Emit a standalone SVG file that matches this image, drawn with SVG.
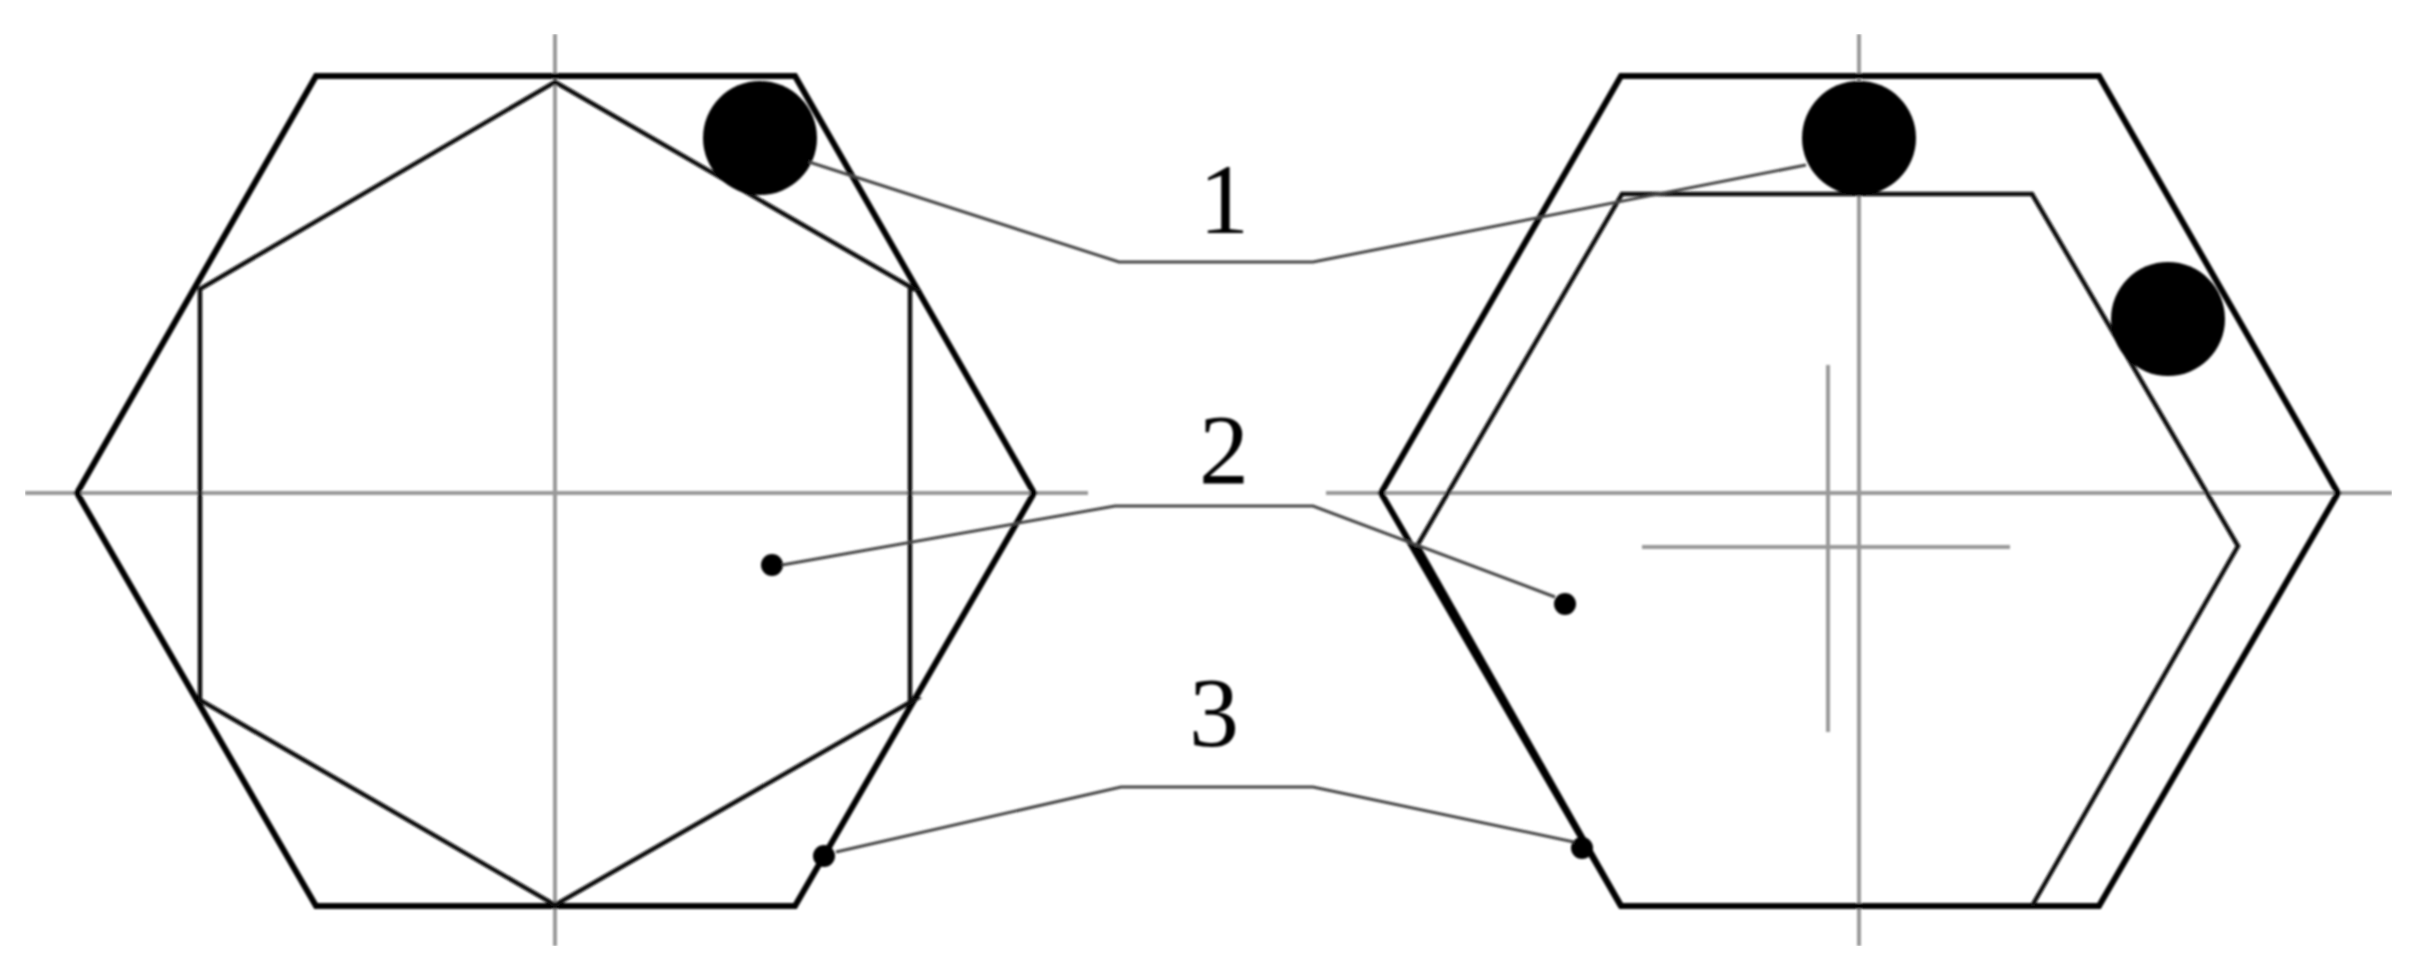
<svg xmlns="http://www.w3.org/2000/svg" width="2428" height="967" viewBox="0 0 2428 967">
<style>
.hex{fill:none;stroke:#000;stroke-width:6;stroke-linejoin:miter}
.in{fill:none;stroke:#111;stroke-width:4.5}
.axis{fill:none;stroke:#999;stroke-width:4}
.lead{fill:none;stroke:#444;stroke-width:3}
.ball{fill:#000}
text{font-family:"Liberation Serif","Times New Roman",serif;font-size:100px;fill:#000;text-anchor:middle}
</style>
<defs><filter id="soft" x="0" y="0" width="100%" height="100%"><feGaussianBlur stdDeviation="0.9"/></filter></defs>
<rect width="2428" height="967" fill="#fff"/>
<g filter="url(#soft)">
<g id="axes">
<path class="axis" d="M555 34V946M25 493H1088M1859 34V946M1326 493H2392M1828 365V732M1642 547H2010"/>
</g>
<g id="left-part">
<path class="hex" d="M316 76H795L1034 493L795 906H316L77 493Z"/>
<path class="in" d="M555 82L914 289H910V700H914L555 905L200 700V289Z"/>
<circle class="ball" cx="760" cy="138" r="57"/>
<circle class="ball" cx="772" cy="565" r="11"/>
<circle class="ball" cx="824" cy="856" r="11"/>
</g>
<g id="right-part">
<path class="hex" d="M1621 76H2099L2338 493L2099 906H1621L1381 493Z"/>
<path class="in" d="M1417 546L1622 194H2032L2238 546L2032 906"/>
<path class="hex" d="M1417 546L1621 906"/>
<circle class="ball" cx="1859" cy="138" r="57"/>
<circle class="ball" cx="2168" cy="319" r="57"/>
<circle class="ball" cx="1565" cy="604" r="11"/>
<circle class="ball" cx="1582" cy="848" r="11"/>
</g>
<g id="connectors">
<path class="lead" d="M809 162L1119 262H1313L1806 165"/>
<path class="lead" d="M782 565L1115 506H1313L1555 597"/>
<path class="lead" d="M836 852L1121 787H1313L1574 842"/>
</g>
<g id="label-1"><text x="1224" y="233">1</text></g>
<g id="label-2"><text x="1224" y="483">2</text></g>
<g id="label-3"><text x="1214" y="746">3</text></g>
</g>
</svg>
